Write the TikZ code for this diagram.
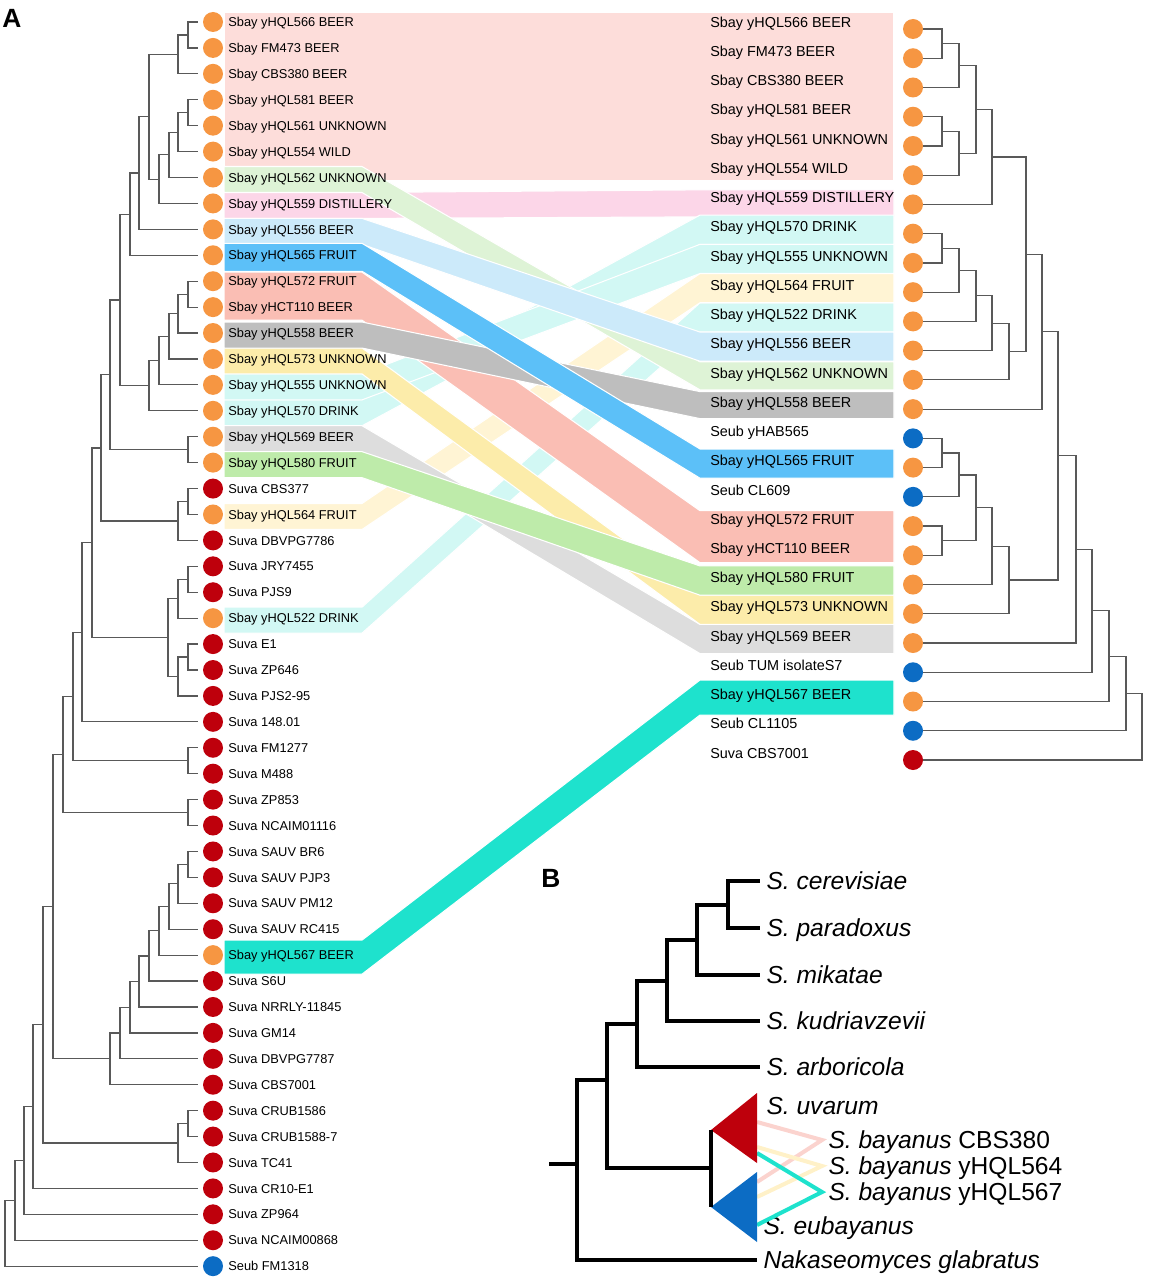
\documentclass[tikz,border=0pt]{standalone}
\usepackage{fontspec}
\setmainfont{Liberation Sans}
\usepackage{tikz}
\usetikzlibrary{calc}

\definecolor{sbay}{RGB}{246,150,66}
\definecolor{suva}{RGB}{190,0,12}
\definecolor{seub}{RGB}{12,108,196}
\definecolor{beer}{RGB}{253,221,218}
\definecolor{distil}{RGB}{252,214,232}
\definecolor{unkgreen}{RGB}{222,243,214}
\definecolor{beerblue}{RGB}{204,234,250}
\definecolor{fruitblue}{RGB}{92,192,248}
\definecolor{salmon}{RGB}{250,190,180}
\definecolor{beergray}{RGB}{190,190,190}
\definecolor{beerlgray}{RGB}{221,221,221}
\definecolor{unkyellow}{RGB}{252,236,170}
\definecolor{drink}{RGB}{210,248,244}
\definecolor{fruitgreen}{RGB}{190,235,170}
\definecolor{fruityellow}{RGB}{255,244,212}
\definecolor{tealbeer}{RGB}{30,226,205}
\definecolor{vpink}{RGB}{251,211,206}
\definecolor{vyellow}{RGB}{255,241,200}

% #1 name, #2 x of the join, #3 #4 children
\newcommand\clade[4]{%
  \path let \p1=(#3), \p2=(#4), \p3=(#2,0) in coordinate (#1) at (\x3,{0.5*(\y1+\y2)});
  \draw[branch] (#1) |- (#3) (#1) |- (#4);}

% #1 colour, #2 left row, #3 right row, #4 left half width, #5 right half width
\newcommand\ribbon[5]{%
  \fill[#1, band] (224,{24+25.92*#2-#4}) -- (362,{24+25.92*#2-#4})
    -- (700,{25+29.24*#3-#5}) -- (894,{25+29.24*#3-#5})
    -- (894,{25+29.24*#3+#5}) -- (700,{25+29.24*#3+#5})
    -- (362,{24+25.92*#2+#4}) -- (224,{24+25.92*#2+#4}) -- cycle;}

\begin{document}
\begin{tikzpicture}[
    x=0.02cm, y=-0.02cm,
    dot/.style={circle, inner sep=0pt, minimum size=0.4cm},
    llab/.style={anchor=west, inner sep=0pt, text height=5.3pt, text depth=0pt, font=\fontsize{7.3}{8}\selectfont},
    rlab/.style={anchor=west, inner sep=0pt, text height=5.9pt, text depth=0pt, font=\fontsize{8.2}{9}\selectfont},
    branch/.style={draw=black!65, line width=0.7pt},
    trunk/.style={draw=black, line width=2.4pt},
    band/.style={draw=white, line width=0.6pt},
    vline/.style={line width=2.3pt},
    sp/.style={anchor=west, inner xsep=3.5pt, inner ysep=0pt, text height=10pt, text depth=0pt, font=\fontsize{14}{16}\selectfont\itshape},
    panel/.style={font=\fontsize{15}{17}\selectfont\bfseries}
]
\useasboundingbox (0,0) rectangle (1150,1280);

% ribbons between the two trees
\fill[beer, band] (224,12) rectangle (894,181);
\ribbon{distil}{7}{6.1}{13}{13.5}
\ribbon{drink}{15}{7}{13}{14.6}
\ribbon{drink}{14}{8}{13}{14.6}
\ribbon{drink}{23}{10}{13}{14.6}
\ribbon{fruityellow}{19}{9}{13}{14.6}
\ribbon{unkgreen}{6}{12}{13}{14}
\ribbon{beerblue}{8}{11}{13}{14.6}
\ribbon{beerlgray}{16}{21}{13}{14.6}
\ribbon{unkyellow}{13}{20}{13}{14.6}
\ribbon{fruitgreen}{17}{19}{13}{14.6}
\ribbon{salmon}{10.5}{17.5}{24}{26}
\ribbon{beergray}{12}{13}{13}{13.5}
\ribbon{fruitblue}{9}{15}{14}{14.6}
\ribbon{tealbeer}{36}{23}{17}{17.5}

\node[panel] (pa) at (12,18) {A};

% left tree
\foreach \lab/\col [count=\i from 0] in {Sbay yHQL566 BEER/sbay, Sbay FM473 BEER/sbay,
    Sbay CBS380 BEER/sbay, Sbay yHQL581 BEER/sbay, Sbay yHQL561 UNKNOWN/sbay,
    Sbay yHQL554 WILD/sbay, Sbay yHQL562 UNKNOWN/sbay, Sbay yHQL559 DISTILLERY/sbay,
    Sbay yHQL556 BEER/sbay, Sbay yHQL565 FRUIT/sbay, Sbay yHQL572 FRUIT/sbay,
    Sbay yHCT110 BEER/sbay, Sbay yHQL558 BEER/sbay, Sbay yHQL573 UNKNOWN/sbay,
    Sbay yHQL555 UNKNOWN/sbay, Sbay yHQL570 DRINK/sbay, Sbay yHQL569 BEER/sbay,
    Sbay yHQL580 FRUIT/sbay, Suva CBS377/suva, Sbay yHQL564 FRUIT/sbay,
    Suva DBVPG7786/suva, Suva JRY7455/suva, Suva PJS9/suva, Sbay yHQL522 DRINK/sbay,
    Suva E1/suva, Suva ZP646/suva, Suva PJS2-95/suva, Suva 148.01/suva,
    Suva FM1277/suva, Suva M488/suva, Suva ZP853/suva, Suva NCAIM01116/suva,
    Suva SAUV BR6/suva, Suva SAUV PJP3/suva, Suva SAUV PM12/suva, Suva SAUV RC415/suva,
    Sbay yHQL567 BEER/sbay, Suva S6U/suva, Suva NRRLY-11845/suva, Suva GM14/suva,
    Suva DBVPG7787/suva, Suva CBS7001/suva, Suva CRUB1586/suva, Suva CRUB1588-7/suva,
    Suva TC41/suva, Suva CR10-E1/suva, Suva ZP964/suva, Suva NCAIM00868/suva,
    Seub FM1318/seub} {
  \node[dot, fill=\col] (ld\i) at (213,22+25.92*\i) {};
  \node[llab] (lt\i) at (228,22+25.92*\i) {\lab};
  \coordinate (l\i) at (198,22+25.92*\i);
}
\clade{la1}{188}{l0}{l1}
\clade{la2}{178}{la1}{l2}
\clade{la3}{188}{l3}{l4}
\clade{la4}{178}{la3}{l5}
\clade{la5}{169}{la4}{l6}
\clade{la6}{159}{la5}{l7}
\clade{la7}{149}{la2}{la6}
\clade{la8}{139}{la7}{l8}
\clade{la9}{130}{la8}{l9}
\clade{lb1}{188}{l10}{l11}
\clade{lb2}{178}{lb1}{l12}
\clade{lb3}{169}{lb2}{l13}
\clade{lb4}{159}{lb3}{l14}
\clade{lb5}{149}{lb4}{l15}
\clade{lb6}{120}{la9}{lb5}
\clade{lb7}{188}{l16}{l17}
\clade{lb8}{110}{lb6}{lb7}
\clade{lc1}{188}{l18}{l19}
\clade{lc2}{178}{lc1}{l20}
\clade{lc3}{101}{lb8}{lc2}
\clade{ld1}{188}{l21}{l22}
\clade{ld2}{178}{ld1}{l23}
\clade{ld3}{188}{l24}{l25}
\clade{ld4}{178}{ld3}{l26}
\clade{ld5}{168}{ld2}{ld4}
\clade{ld6}{92}{lc3}{ld5}
\clade{ld7}{82}{ld6}{l27}
\clade{le1}{188}{l28}{l29}
\clade{le2}{73}{ld7}{le1}
\clade{le3}{188}{l30}{l31}
\clade{le4}{63}{le2}{le3}
\clade{lf1}{188}{l32}{l33}
\clade{lf2}{178}{lf1}{l34}
\clade{lf3}{169}{lf2}{l35}
\clade{lf4}{159}{lf3}{l36}
\clade{lf5}{149}{lf4}{l37}
\clade{lf6}{139}{lf5}{l38}
\clade{lf7}{130}{lf6}{l39}
\clade{lf8}{120}{lf7}{l40}
\clade{lf9}{110}{lf8}{l41}
\clade{lg1}{53}{le4}{lf9}
\clade{lh1}{188}{l42}{l43}
\clade{lh2}{178}{lh1}{l44}
\clade{lg2}{43}{lg1}{lh2}
\clade{lg3}{33}{lg2}{l45}
\clade{lg4}{24}{lg3}{l46}
\clade{lg5}{15}{lg4}{l47}
\clade{lg6}{5}{lg5}{l48}

% right tree
\foreach \lab/\col [count=\j from 0] in {Sbay yHQL566 BEER/sbay, Sbay FM473 BEER/sbay,
    Sbay CBS380 BEER/sbay, Sbay yHQL581 BEER/sbay, Sbay yHQL561 UNKNOWN/sbay,
    Sbay yHQL554 WILD/sbay, Sbay yHQL559 DISTILLERY/sbay, Sbay yHQL570 DRINK/sbay,
    Sbay yHQL555 UNKNOWN/sbay, Sbay yHQL564 FRUIT/sbay, Sbay yHQL522 DRINK/sbay,
    Sbay yHQL556 BEER/sbay, Sbay yHQL562 UNKNOWN/sbay, Sbay yHQL558 BEER/sbay,
    Seub yHAB565/seub, Sbay yHQL565 FRUIT/sbay, Seub CL609/seub,
    Sbay yHQL572 FRUIT/sbay, Sbay yHCT110 BEER/sbay, Sbay yHQL580 FRUIT/sbay,
    Sbay yHQL573 UNKNOWN/sbay, Sbay yHQL569 BEER/sbay, Seub TUM isolateS7/seub,
    Sbay yHQL567 BEER/sbay, Seub CL1105/seub, Suva CBS7001/suva} {
  \node[dot, fill=\col] (rd\j) at (913,29+29.24*\j) {};
  \node[rlab] (rt\j) at (710,22+29.24*\j) {\lab};
  \coordinate (r\j) at (923,29+29.24*\j);
}
\clade{ra1}{942}{r0}{r1}
\clade{ra2}{959}{ra1}{r2}
\clade{ra3}{942}{r3}{r4}
\clade{ra4}{959}{ra3}{r5}
\clade{ra5}{976}{ra2}{ra4}
\clade{ra6}{992}{ra5}{r6}
\clade{rb1}{942}{r7}{r8}
\clade{rb2}{959}{rb1}{r9}
\clade{rb3}{976}{rb2}{r10}
\clade{rb4}{992}{rb3}{r11}
\clade{rb5}{1009}{rb4}{r12}
\clade{rb6}{1026}{ra6}{rb5}
\clade{rb7}{1042}{rb6}{r13}
\clade{rc1}{942}{r14}{r15}
\clade{rc2}{959}{rc1}{r16}
\clade{rc3}{942}{r17}{r18}
\clade{rc4}{976}{rc2}{rc3}
\clade{rc5}{992}{rc4}{r19}
\clade{rc6}{1009}{rc5}{r20}
\clade{rd1}{1058}{rb7}{rc6}
\clade{rd2}{1076}{rd1}{r21}
\clade{rd3}{1092}{rd2}{r22}
\clade{rd4}{1109}{rd3}{r23}
\clade{rd5}{1126}{rd4}{r24}
\clade{rd6}{1142}{rd5}{r25}

% panel B
\node[panel] (pb) at (551,878) {B};
\node[sp] (cer) at (760,881) {S. cerevisiae};
\node[sp] (par) at (760,928) {S. paradoxus};
\node[sp] (mik) at (760,975) {S. mikatae};
\node[sp] (kud) at (760,1021) {S. kudriavzevii};
\node[sp] (arb) at (760,1067) {S. arboricola};
\node[sp] (uva) at (760,1106) {S. uvarum};
\node[sp] (cbs) at (822,1140) {S. bayanus \textup{CBS380}};
\node[sp] (y564) at (822,1166) {S. bayanus \textup{yHQL564}};
\node[sp] (y567) at (822,1192) {S. bayanus \textup{yHQL567}};
\node[sp] (eub) at (757,1226) {S. eubayanus};
\node[sp] (nak) at (757,1260) {Nakaseomyces glabratus};

\coordinate (b1) at (728,905);
\coordinate (b2) at (697,940);
\coordinate (b3) at (667,981);
\coordinate (b4) at (637,1024);
\coordinate (b5) at (607,1080);
\coordinate (b6) at (577,1164);
\coordinate (b0) at (549,1164);
\coordinate (btri) at (711,1168);
\coordinate (uvap) at (711,1130);
\coordinate (euap) at (711,1207);

\draw[vline, vpink] (757,1122) -- (cbs.west) -- (757,1182);
\draw[vline, vyellow] (757,1147) -- (y564.west) -- (757,1197);
\draw[vline, tealbeer] (757,1153) -- (y567.west) -- (757,1225);
\fill[suva] (uvap) -- (757,1093) -- (757,1163) -- cycle;
\fill[seub] (euap) -- (757,1172) -- (757,1242) -- cycle;

\draw[trunk] (b1) |- (cer.west) (b1) |- (par.west);
\draw[trunk] (b2) |- (b1) (b2) |- (mik.west);
\draw[trunk] (b3) |- (b2) (b3) |- (kud.west);
\draw[trunk] (b4) |- (b3) (b4) |- (arb.west);
\draw[trunk] (b5) |- (b4) (b5) |- (btri);
\draw[trunk] (b6) |- (b5) (b6) |- (nak.west);
\draw[trunk] (b0) -- (b6);
\draw[trunk] (uvap) -- (euap);

\end{tikzpicture}
\end{document}
